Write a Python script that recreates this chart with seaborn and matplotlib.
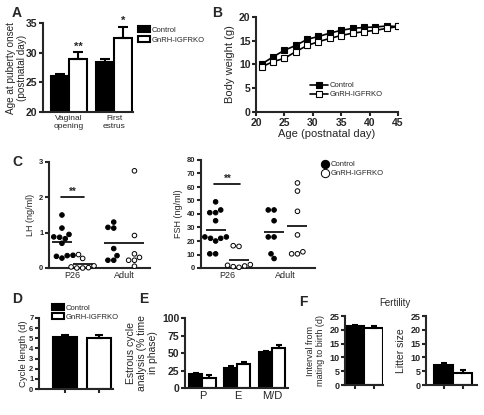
import numpy as np
import pandas as pd
import matplotlib
matplotlib.use("Agg")
import matplotlib.pyplot as plt
import seaborn as sns
from matplotlib.patches import Patch
from matplotlib.lines import Line2D

sns.set_style("ticks")
plt.rcParams["font.family"] = ["Liberation Sans", "DejaVu Sans"]

groups = ["Control", "GnRH-IGFRKO"]
bar_colors = ["black", "white"]

# A - puberty onset
puberty_events = ["Vaginal\nopening", "First\nestrus"]
puberty_ctrl = [26.0, 28.5]
puberty_ko = [29.0, 32.5]
puberty_ctrl_err = [0.35, 0.35]
puberty_ko_err = [1.1, 1.9]

# B - body weight
age_days = [21, 23, 25, 27, 29, 31, 33, 35, 37, 39, 41, 43, 45]
bw_ctrl = [10.1, 11.6, 13.0, 14.0, 15.3, 15.9, 16.6, 17.2, 17.6, 17.8, 17.9, 18.1, 18.0]
bw_ko = [9.5, 10.6, 11.3, 12.7, 14.0, 14.8, 15.5, 16.1, 16.6, 16.9, 17.2, 17.6, 18.0]
bw_ctrl_err = [0.4, 0.4, 0.4, 0.4, 0.4, 0.4, 0.3, 0.3, 0.3, 0.3, 0.3, 0.3, 0.3]
bw_ko_err = [0.5, 0.5, 0.5, 0.5, 0.5, 0.5, 0.4, 0.4, 0.4, 0.4, 0.4, 0.4, 0.4]

# C - hormones
ages_c = ["P26", "Adult"]
lh_p26_ctrl = [1.5, 1.13, 0.95, 0.88, 0.87, 0.83, 0.70, 0.36, 0.35, 0.33, 0.28]
lh_p26_ko = [0.38, 0.27, 0.06, 0.03, 0.01, 0.0, 0.0]
lh_adult_ctrl = [1.3, 1.15, 1.13, 0.55, 0.35, 0.22, 0.22]
lh_adult_ko = [2.75, 0.92, 0.40, 0.30, 0.22, 0.22, 0.05]
fsh_p26_ctrl = [49, 43, 41, 41, 35, 23, 23, 22, 22, 20, 10.5, 10.5]
fsh_p26_ko = [16.5, 16, 2.5, 2, 1.5, 1, 0.5]
fsh_adult_ctrl = [43, 43, 35, 23, 23, 10.5, 7]
fsh_adult_ko = [63, 57, 42, 24.5, 12, 10.5, 10.5]

# D - cycle length
cycle_len = [5.1, 5.05]
cycle_err = [0.25, 0.3]

# E - estrous phases
phases = ["P", "E", "M/D"]
phase_ctrl = [20, 29, 51]
phase_ko = [15, 34, 57]
phase_ctrl_err = [1.0, 2.0, 2.5]
phase_ko_err = [3.0, 2.5, 5.0]

# F - fertility
interval_days = [21.5, 20.8]
interval_err = [0.3, 0.6]
litter_size = [7.4, 4.5]
litter_err = [0.4, 0.8]

fig = plt.figure(figsize=(4.85, 4.15), dpi=100)


def add_ax(l, t, r, b):
    return fig.add_axes([l / 485, 1 - b / 415, (r - l) / 485, (b - t) / 415])


def tidy(ax, size, xticklen=0):
    sns.despine(ax=ax)
    for s in ["left", "bottom"]:
        ax.spines[s].set_linewidth(1.5)
    ax.tick_params(axis="y", width=1.5, length=3, labelsize=size, pad=1)
    ax.tick_params(axis="x", width=1.5, length=xticklen, pad=2)
    plt.setp(ax.get_yticklabels(), fontweight="bold")
    ax.set_xlabel("")


def bar_panel(ax, df, xcol, ycol, errs, width, capsize=3):
    sns.barplot(data=df, x=xcol, y=ycol, hue="group", hue_order=groups,
                palette=bar_colors, edgecolor="black", linewidth=1.5,
                width=width, errorbar=None, legend=False, ax=ax)
    vals = list(df[ycol])
    for p in ax.patches:
        h = p.get_height()
        i = int(np.argmin([abs(h - v) for v in vals]))
        xc = p.get_x() + p.get_width() / 2
        ax.errorbar(xc, h, yerr=[[0], [errs[i]]], color="black",
                    elinewidth=1.5, capsize=capsize, capthick=1.5, zorder=5)


# ---- A
axA = add_ax(43, 23, 133, 112)
df_a = pd.DataFrame({"event": puberty_events * 2,
                     "group": [groups[0]] * 2 + [groups[1]] * 2,
                     "age": puberty_ctrl + puberty_ko})
bar_panel(axA, df_a, "event", "age", puberty_ctrl_err + puberty_ko_err, 0.8, 3.5)
axA.set_ylim(20, 35)
axA.set_yticks([20, 25, 30, 35])
axA.set_xlim(-0.58, 1.42)
tidy(axA, 7.5)
axA.set_ylabel("Age at puberty onset\n(postnatal day)", fontsize=7.2, linespacing=1.1)
axA.yaxis.set_label_coords(-16 / 90, 0.5)
plt.setp(axA.get_xticklabels(), fontsize=6, linespacing=1.3)
for i, (v, e, s) in enumerate(zip(puberty_ko, puberty_ko_err, ["**", "*"])):
    axA.text(i + 0.2, v + e + 0.1, s, ha="center", va="bottom", fontsize=8, fontweight="bold")
fig.legend(handles=[Patch(facecolor=c, edgecolor="black", linewidth=1.5) for c in bar_colors],
           labels=groups, loc="upper left", bbox_to_anchor=(138 / 485, 1 - 26 / 415),
           frameon=False, fontsize=5.5, handlelength=1.6, handleheight=0.9,
           handletextpad=0.2, labelspacing=0.25, borderpad=0, borderaxespad=0)

# ---- B
axB = add_ax(256, 17, 398, 112)
df_b = pd.DataFrame({"age": age_days * 2,
                     "group": [groups[0]] * len(age_days) + [groups[1]] * len(age_days),
                     "weight": bw_ctrl + bw_ko})
for g, fc, err in zip(groups, bar_colors, [bw_ctrl_err, bw_ko_err]):
    sub = df_b[df_b["group"] == g]
    axB.errorbar(sub["age"], sub["weight"], yerr=err, fmt="none", ecolor="black",
                 elinewidth=0.8, capsize=1.5, capthick=0.8)
    sns.lineplot(data=sub, x="age", y="weight", color="black", linewidth=1.2,
                 marker="s", markersize=4.5, markerfacecolor=fc,
                 markeredgecolor="black", markeredgewidth=0.8, ax=axB)
axB.set_xlim(20, 45)
axB.set_ylim(0, 20)
axB.set_xticks([20, 25, 30, 35, 40, 45])
axB.set_yticks([0, 5, 10, 15, 20])
tidy(axB, 7.5, 3)
axB.tick_params(axis="x", labelsize=7.5, pad=1)
plt.setp(axB.get_xticklabels(), fontweight="bold")
axB.set_xlabel("Age (postnatal day)", fontsize=8, labelpad=1)
axB.set_ylabel("Body weight (g)", fontsize=8, labelpad=3)
fig.legend(handles=[Line2D([], [], color="black", lw=1.2, marker="s", markersize=4.5,
                           markerfacecolor=c, markeredgecolor="black", markeredgewidth=0.8)
                    for c in bar_colors],
           labels=groups, loc="upper left", bbox_to_anchor=(310 / 485, 1 - 82 / 415),
           frameon=False, fontsize=5.5, handlelength=2.3, handletextpad=0.3,
           labelspacing=0.2, borderpad=0, borderaxespad=0)


# ---- C
def scatter_panel(ax, series, ylab, ylim, yticks, sig_y, size):
    rows = []
    for (age, g), vals in series.items():
        rows += [{"age": age, "group": g, "val": v} for v in vals]
    df = pd.DataFrame(rows)
    sns.swarmplot(data=df, x="age", y="val", hue="group", hue_order=groups, order=ages_c,
                  palette=bar_colors, edgecolor="black", linewidth=0.7, size=3.3,
                  dodge=True, legend=False, warn_thresh=1.0, ax=ax)
    for c in ax.collections:
        c.set_clip_on(False)
    sns.pointplot(data=df, x="age", y="val", hue="group", hue_order=groups, order=ages_c,
                  palette=["black", "black"], dodge=0.4, errorbar=None, markers="_",
                  linestyle="none", markersize=15, markeredgewidth=1.2,
                  legend=False, ax=ax)
    ax.set_xlim(-0.45, 1.5)
    ax.set_ylim(*ylim)
    ax.set_yticks(yticks)
    tidy(ax, size)
    ax.set_ylabel(ylab, fontsize=6.5, labelpad=3)
    ax.tick_params(axis="x", labelsize=6.5)
    ax.plot([-0.22, 0.22], [sig_y, sig_y], color="black", lw=1.2)
    ax.text(0, sig_y, "**", ha="center", va="bottom", fontsize=7, fontweight="bold")


axLH = add_ax(49, 162, 150, 268)
scatter_panel(axLH, {("P26", groups[0]): lh_p26_ctrl, ("P26", groups[1]): lh_p26_ko,
                     ("Adult", groups[0]): lh_adult_ctrl, ("Adult", groups[1]): lh_adult_ko},
              "LH (ng/ml)", (0, 3), [0, 1, 2, 3], 2.0, 5.5)
axFSH = add_ax(201, 160, 315, 268)
scatter_panel(axFSH, {("P26", groups[0]): fsh_p26_ctrl, ("P26", groups[1]): fsh_p26_ko,
                      ("Adult", groups[0]): fsh_adult_ctrl, ("Adult", groups[1]): fsh_adult_ko},
              "FSH (ng/ml)", (0, 80), [0, 10, 20, 30, 40, 50, 60, 70, 80], 62, 5.5)
fig.legend(handles=[Line2D([], [], ls="none", marker="o", markersize=6,
                           markerfacecolor=c, markeredgecolor="black", markeredgewidth=0.7)
                    for c in bar_colors],
           labels=groups, loc="upper left", bbox_to_anchor=(321 / 485, 1 - 161 / 415),
           frameon=False, fontsize=5.5, handlelength=1.0, handletextpad=0.3,
           labelspacing=0.2, borderpad=0, borderaxespad=0)

# ---- D
axD = add_ax(39, 318, 113, 389)
bar_panel(axD, pd.DataFrame({"x": groups, "group": groups, "days": cycle_len}),
          "x", "days", cycle_err, 0.7)
axD.set_ylim(0, 7)
axD.set_yticks(range(8))
axD.set_xlim(-0.75, 1.4)
tidy(axD, 5.5, 3)
axD.set_ylabel("Cycle length (d)", fontsize=6.8)
axD.yaxis.set_label_coords(-11 / 74, 0.5)
axD.set_xticklabels([])
fig.legend(handles=[Patch(facecolor=c, edgecolor="black", linewidth=1.5) for c in bar_colors],
           labels=groups, loc="upper left", bbox_to_anchor=(52 / 485, 1 - 304 / 415),
           frameon=False, fontsize=5.5, handlelength=1.6, handleheight=0.8,
           handletextpad=0.2, labelspacing=0.2, borderpad=0, borderaxespad=0)

# ---- E
axE = add_ax(185, 318, 288, 388)
df_e = pd.DataFrame({"phase": phases * 2,
                     "group": [groups[0]] * 3 + [groups[1]] * 3,
                     "pct": phase_ctrl + phase_ko})
bar_panel(axE, df_e, "phase", "pct", phase_ctrl_err + phase_ko_err, 0.75, 2.5)
axE.set_ylim(0, 100)
axE.set_yticks([0, 25, 50, 75, 100])
axE.set_xlim(-0.5, 2.45)
tidy(axE, 7.5)
axE.set_ylabel("Estrous cycle\nanalysis (% time\nin phase)", fontsize=7.5, linespacing=1.1, labelpad=3)
axE.tick_params(axis="x", labelsize=8)

# ---- F
axF1 = add_ax(345, 316, 383, 385)
bar_panel(axF1, pd.DataFrame({"x": groups, "group": groups, "d": interval_days}),
          "x", "d", interval_err, 1.0, 2.5)
axF1.set_ylim(0, 25)
axF1.set_yticks([0, 5, 10, 15, 20, 25])
axF1.set_xlim(-0.55, 1.5)
tidy(axF1, 6.5, 3)
axF1.set_ylabel("Interval from\nmating to birth (d)", fontsize=6.5, linespacing=1.1, labelpad=3)
axF1.set_xticklabels([])

axF2 = add_ax(426, 316, 477, 385)
bar_panel(axF2, pd.DataFrame({"x": groups, "group": groups, "n": litter_size}),
          "x", "n", litter_err, 1.0, 2.5)
axF2.set_ylim(0, 25)
axF2.set_yticks([0, 5, 10, 15, 20, 25])
axF2.set_xlim(-0.95, 1.75)
tidy(axF2, 6.5, 3)
axF2.set_ylabel("Litter size", fontsize=7.5, labelpad=3)
axF2.set_xticklabels([])
fig.text(395 / 485, 1 - 303 / 415, "Fertility", ha="center", va="center", fontsize=7)

# panel letters
for lab, x, y in [("A", 17, 13), ("B", 217, 13), ("C", 17, 162),
                  ("D", 17, 299), ("E", 144, 299), ("F", 303, 302)]:
    fig.text(x / 485, 1 - y / 415, lab, ha="center", va="center",
             fontsize=10, fontweight="bold")

fig.savefig("out.png", dpi=100)
